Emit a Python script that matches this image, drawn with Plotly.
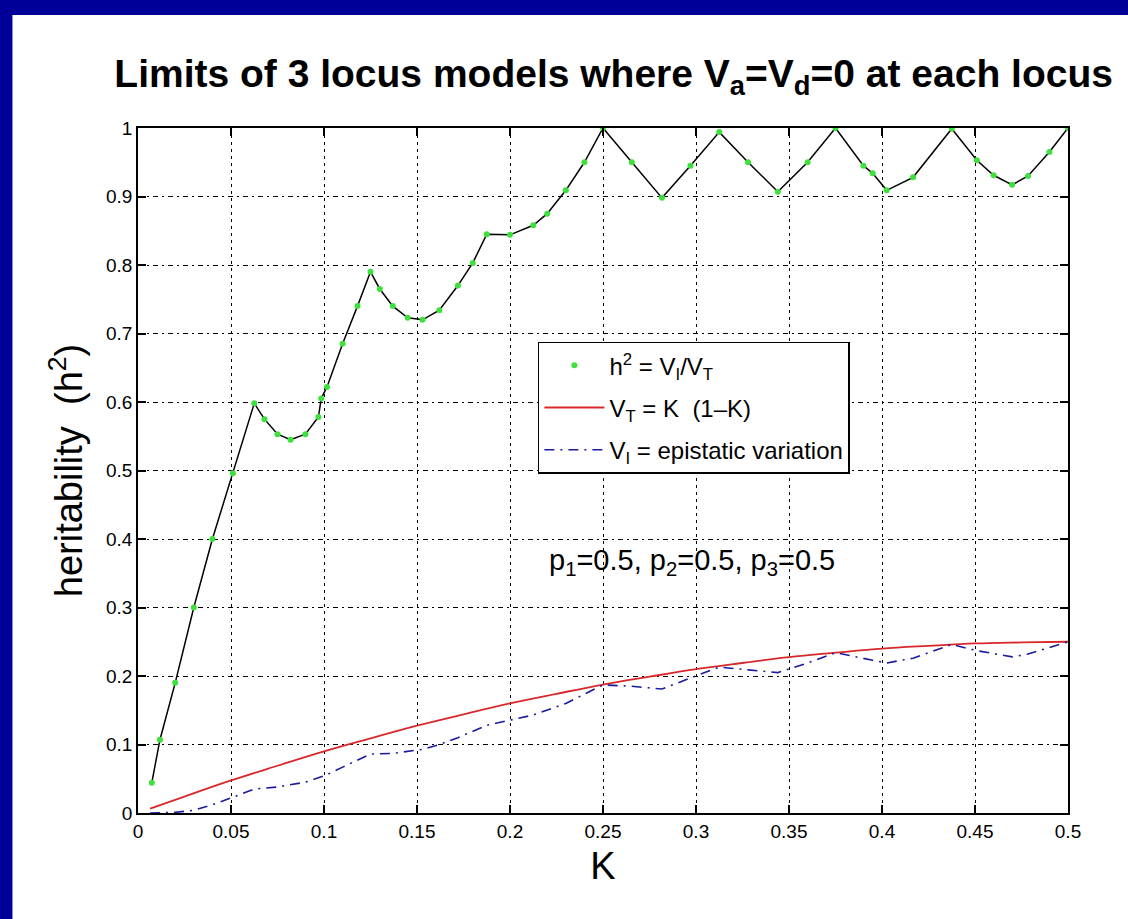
import plotly.graph_objects as go

# h^2 = VI/VT curve
k_h2 = [0.0074, 0.0118, 0.02, 0.03, 0.04, 0.051, 0.0625, 0.068, 0.075, 0.082, 0.09, 0.097, 0.0985,
        0.1016, 0.11, 0.118, 0.125, 0.13, 0.137, 0.145, 0.153, 0.162, 0.172, 0.18, 0.1875, 0.2,
        0.2125, 0.22, 0.23, 0.24, 0.25, 0.2655, 0.2817, 0.297, 0.3125, 0.328, 0.344, 0.36, 0.375,
        0.39, 0.395, 0.4025, 0.4167, 0.4375, 0.451, 0.46, 0.47, 0.4785, 0.49, 0.5]
h2 = [0.044, 0.107, 0.19, 0.30, 0.40, 0.496, 0.598, 0.575, 0.553, 0.545, 0.553, 0.578, 0.605,
      0.622, 0.685, 0.74, 0.79, 0.765, 0.74, 0.723, 0.72, 0.734, 0.77, 0.803, 0.845, 0.844,
      0.858, 0.875, 0.909, 0.95, 1.0, 0.95, 0.898, 0.945, 0.994, 0.95, 0.907, 0.95, 1.0,
      0.945, 0.934, 0.909, 0.928, 0.999, 0.953, 0.931, 0.917, 0.93, 0.965, 1.0]

# VT = K(1-K)
k_vt = [0.0065, 0.025, 0.05, 0.075, 0.1, 0.125, 0.15, 0.175, 0.2, 0.225, 0.25, 0.275, 0.3,
        0.325, 0.35, 0.375, 0.4, 0.425, 0.45, 0.475, 0.5]
vt = [0.0065, 0.024, 0.0475, 0.069, 0.09, 0.109, 0.1275, 0.144, 0.16, 0.174, 0.1875, 0.199, 0.21,
      0.219, 0.2275, 0.234, 0.24, 0.244, 0.2475, 0.249, 0.25]

# VI = epistatic variation
k_vi = [0.0065, 0.02, 0.03, 0.04, 0.051, 0.0625, 0.075, 0.082, 0.09, 0.0985, 0.1016, 0.11, 0.118,
        0.125, 0.137, 0.153, 0.162, 0.172, 0.1875, 0.2, 0.2125, 0.23, 0.25, 0.2655, 0.2817,
        0.297, 0.3125, 0.328, 0.344, 0.36, 0.375, 0.395, 0.4025, 0.4167, 0.4375, 0.451, 0.47,
        0.4785, 0.5]
vi = [0.0, 0.001, 0.004, 0.012, 0.023, 0.035, 0.038, 0.041, 0.045, 0.053, 0.056, 0.067, 0.077,
      0.086, 0.087, 0.093, 0.1, 0.11, 0.128, 0.135, 0.143, 0.16, 0.187, 0.185, 0.181, 0.197,
      0.213, 0.209, 0.205, 0.219, 0.234, 0.223, 0.219, 0.226, 0.246, 0.237, 0.228, 0.232, 0.25]

x_ticks = [0, 0.05, 0.1, 0.15, 0.2, 0.25, 0.3, 0.35, 0.4, 0.45, 0.5]
x_tick_text = ["0", "0.05", "0.1", "0.15", "0.2", "0.25", "0.3", "0.35", "0.4", "0.45", "0.5"]
y_ticks = [0, 0.1, 0.2, 0.3, 0.4, 0.5, 0.6, 0.7, 0.8, 0.9, 1]
y_tick_text = ["0", "0.1", "0.2", "0.3", "0.4", "0.5", "0.6", "0.7", "0.8", "0.9", "1"]

FONT = "Liberation Sans, Arial, sans-serif"

fig = go.Figure()
fig.add_trace(go.Scatter(x=k_h2, y=h2, mode="lines", line=dict(color="black", width=1.5),
                         showlegend=False, hoverinfo="skip"))
fig.add_trace(go.Scatter(x=k_h2, y=h2, mode="markers", legendgroup="a",
                         marker=dict(color="#3ee03e", size=6),
                         name="h<sup>2</sup> = V<sub>I</sub>/V<sub>T</sub>"))
fig.add_trace(go.Scatter(x=k_vt, y=vt, mode="lines", legendgroup="b",
                         line=dict(color="#d8282c", width=1.8, shape="spline"),
                         name="V<sub>T</sub> = K  (1\u2013K)"))
fig.add_trace(go.Scatter(x=k_vi, y=vi, mode="lines", legendgroup="c",
                         line=dict(color="#1a1aa0", width=1.6, dash="10px,6px,2px,6px"),
                         name="V<sub>I</sub> = epistatic variation"))

# white panel on blue background
fig.add_shape(type="rect", xref="paper", yref="paper", x0=-0.135, x1=1.2, y0=-0.3, y1=1.165,
              fillcolor="white", line=dict(width=0), layer="below")

fig.add_annotation(x=0.298, y=0.366, xref="x", yref="y", showarrow=False,
                   text="p<sub>1</sub>=0.5, p<sub>2</sub>=0.5, p<sub>3</sub>=0.5",
                   font=dict(family=FONT, size=29, color="black"))

axis_common = dict(showline=True, linecolor="black", linewidth=1.5, mirror="ticks",
                   ticks="inside", ticklen=8, tickcolor="black", tickwidth=1.5,
                   showgrid=True, gridcolor="black", gridwidth=1, zeroline=False,
                   tickfont=dict(family=FONT, size=19, color="black"))

fig.update_xaxes(range=[0, 0.5], tickvals=x_ticks, ticktext=x_tick_text, griddash="3px,4px",
                 title=dict(text="K", font=dict(family=FONT, size=38, color="black"), standoff=12),
                 **axis_common)
fig.update_yaxes(range=[0, 1], tickvals=y_ticks, ticktext=y_tick_text, griddash="5px,4px,2px,4px",
                 title=dict(text="heritability  (h<sup>2</sup>)", font=dict(family=FONT, size=38, color="black"),
                            standoff=12),
                 **axis_common)

fig.update_layout(
    width=1128, height=919,
    margin=dict(l=138, r=60, t=128, b=106),
    paper_bgcolor="#000098",
    plot_bgcolor="white",
    title=dict(text="<b>Limits of 3 locus models where V<sub>a</sub>=V<sub>d</sub>=0 at each locus</b>",
               x=0.544, xanchor="center", y=0.92, yanchor="middle",
               font=dict(family=FONT, size=39, color="black")),
    legend=dict(x=0.43, y=0.688, xanchor="left", yanchor="top", bgcolor="white",
                bordercolor="black", borderwidth=1.5, itemwidth=60,
                font=dict(family=FONT, size=24, color="black"), tracegroupgap=8),
    showlegend=True,
)

fig.write_html("out.html")
